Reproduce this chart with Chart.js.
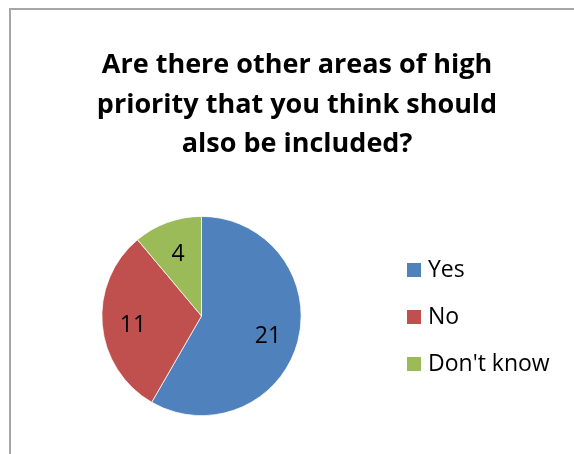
<!DOCTYPE html>
<html>
<head>
<meta charset="utf-8">
<script src="https://cdn.jsdelivr.net/npm/chart.js@4"></script>
<style>
    html, body { margin: 0; padding: 0; background: #fff; }
    #wrap { position: relative; width: 574px; height: 454px; overflow: hidden; }
    #frame { position: absolute; left: 9px; top: 8px; width: 700px; height: 600px;
             border-left: 2px solid #a6a6a6; border-top: 2px solid #a6a6a6; }
    canvas { position: absolute; left: 0; top: 0; }
</style>
</head>
<body>
<div id="wrap">
    <div id="frame"></div>
    <canvas id="pieChart" width="574" height="454"></canvas>
</div>
<script>
const titleLines = ['Are there other areas of high', 'priority that you think should', 'also be included?'];
const categories = ['Yes', 'No', "Don't know"];
const counts = [21, 11, 4];
const sliceColors = ['#4F81BD', '#C0504D', '#9BBB59'];

const FONT = '"Open Sans", Lato, sans-serif';

// title is centred on the whole chart box, not on the pie, so draw it here
const boxTitle = {
    id: 'boxTitle',
    afterDraw(chart) {
        const ctx = chart.ctx;
        ctx.save();
        ctx.font = 'bold 27px ' + FONT;
        ctx.fillStyle = '#000';
        ctx.textAlign = 'center';
        ctx.textBaseline = 'alphabetic';
        titleLines.forEach((line, i) => {
            ctx.fillText(line, 297, 73 + i * 39.5);
        });
        ctx.restore();
    }
};

// draw the count inside each slice
const sliceLabels = {
    id: 'sliceLabels',
    afterDatasetsDraw(chart) {
        const ctx = chart.ctx;
        const arcs = chart.getDatasetMeta(0).data;
        ctx.save();
        ctx.font = '23px ' + FONT;
        ctx.fillStyle = '#000';
        ctx.textAlign = 'center';
        ctx.textBaseline = 'middle';
        arcs.forEach((arc, i) => {
            const p = arc.getProps(['x', 'y', 'startAngle', 'endAngle', 'outerRadius'], true);
            const mid = (p.startAngle + p.endAngle) / 2;
            const r = p.outerRadius * 0.69;
            ctx.fillText(String(counts[i]), p.x + Math.cos(mid) * r, p.y + Math.sin(mid) * r + 3);
        });
        ctx.restore();
    }
};

// legend on the right
const sideLegend = {
    id: 'sideLegend',
    afterDraw(chart) {
        const ctx = chart.ctx;
        const area = chart.chartArea;
        const cy = (area.top + area.bottom) / 2;
        const gap = 47;
        const x = 407;
        ctx.save();
        ctx.font = '23px ' + FONT;
        ctx.textBaseline = 'middle';
        categories.forEach((name, i) => {
            const y = cy + (i - 1) * gap + 1;
            ctx.fillStyle = sliceColors[i];
            ctx.fillRect(x, y - 7, 14, 14);
            ctx.fillStyle = '#000';
            ctx.fillText(name, x + 21, y);
        });
        ctx.restore();
    }
};

const ctx = document.getElementById('pieChart').getContext('2d');
new Chart(ctx, {
    type: 'pie',
    data: {
        labels: categories,
        datasets: [{
            data: counts,
            backgroundColor: sliceColors,
            borderColor: '#fff',
            borderWidth: 0.75
        }]
    },
    options: {
        responsive: false,
        animation: false,
        layout: { padding: { left: 6, right: 177, top: 216, bottom: 38 } },
        plugins: {
            title: { display: false },
            legend: { display: false },
            tooltip: { enabled: false }
        }
    },
    plugins: [sliceLabels, sideLegend, boxTitle]
});
</script>
</body>
</html>
